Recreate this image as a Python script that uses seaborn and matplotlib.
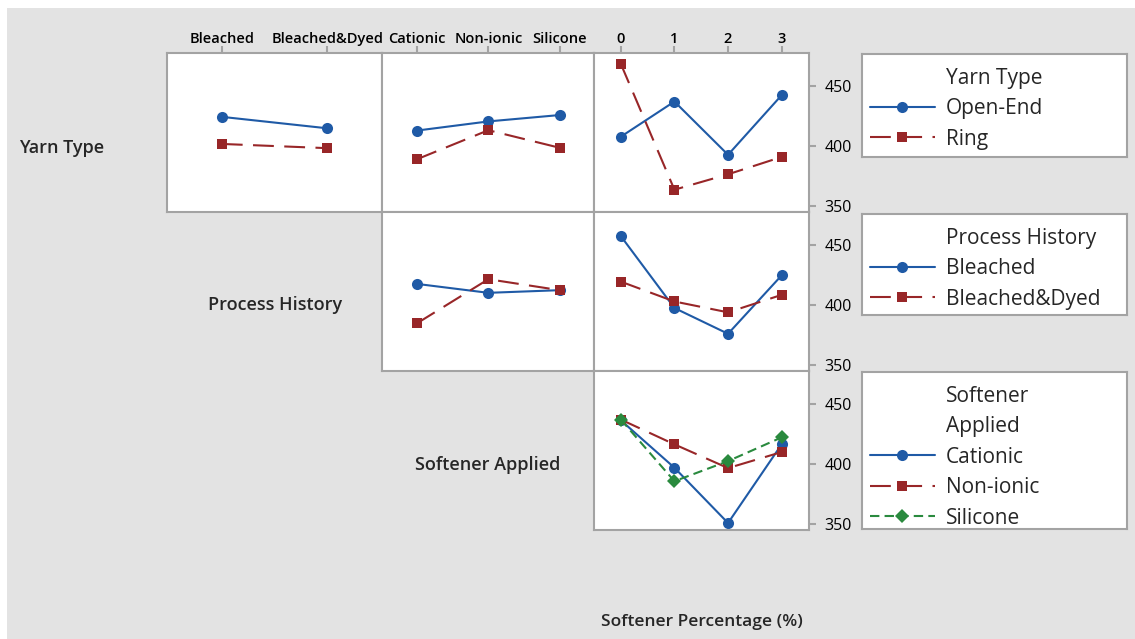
import numpy as np
import pandas as pd
import matplotlib.pyplot as plt
from matplotlib.lines import Line2D
from matplotlib.patches import Rectangle
import seaborn as sns

# factor levels
yarn_levels = ['Open-End', 'Ring']
process_levels = ['Bleached', 'Bleached&Dyed']
softener_levels = ['Cationic', 'Non-ionic', 'Silicone']
pct_levels = ['0', '1', '2', '3']

# means
openend_by_process = [424.0, 414.5]
ring_by_process = [401.5, 398.0]
openend_by_softener = [412.6, 420.2, 425.5]
ring_by_softener = [388.8, 412.9, 398.3]
openend_by_pct = [407.5, 436.7, 392.5, 442.0]
ring_by_pct = [468.0, 363.5, 376.3, 390.7]

bleached_by_softener = [417.3, 409.9, 412.1]
dyed_by_softener = [384.6, 421.2, 412.1]
bleached_by_pct = [457.0, 397.3, 375.9, 424.4]
dyed_by_pct = [419.2, 402.7, 393.7, 408.2]

cationic_by_pct = [436.1, 396.7, 350.8, 416.1]
nonionic_by_pct = [436.7, 416.1, 396.4, 409.7]
silicone_by_pct = [436.7, 385.5, 402.2, 421.9]

W, H = 1135, 639
BG = '#e3e3e3'
EDGE = '#a3a3a3'
BLUE = '#1f5aa6'
RED = '#982628'
GREEN = '#2a8a3e'

# color, marker, markersize, linestyle
styles = [
    (BLUE, 'o', 8.0, '-'),
    (RED, 's', 7.5, (0, (10, 5))),
    (GREEN, 'D', 7.3, (0, (4.5, 2.5))),
]

sns.set_theme(style='white')
plt.rcParams['font.family'] = ['Open Sans', 'DejaVu Sans']

fig = plt.figure(figsize=(W / 100, H / 100), dpi=100, facecolor='white')
fig.patches.append(Rectangle((7 / W, 0), 1 - 7 / W, 1 - 8 / H,
                             transform=fig.transFigure, facecolor=BG,
                             edgecolor='none', zorder=-10))


def px_box(x0, y0, x1, y1):
    return [x0 / W, 1 - y1 / H, (x1 - x0) / W, (y1 - y0) / H]


cols = [(167, 382), (382, 594), (594, 809)]
rows = [(53, 212), (212, 371), (371, 530)]
xlims = [(-0.52, 1.52), (-0.49, 2.48), (-0.5, 3.51)]


def panel(col, row, levels, series):
    ax = fig.add_axes(px_box(cols[col][0], rows[row][0], cols[col][1], rows[row][1]))
    ax.set_facecolor('white')
    for values, (color, marker, ms, ls) in zip(series, styles):
        sns.pointplot(x=levels, y=values, order=levels, color=color,
                      marker=marker, linestyle=ls, markersize=ms,
                      linewidth=1.5, markeredgewidth=0, errorbar=None, ax=ax)
    ax.set_xlim(*xlims[col])
    ax.set_ylim(345, 477)
    ax.set_xlabel('')
    ax.set_ylabel('')
    ax.tick_params(left=False, bottom=False, labelleft=False, labelbottom=False)
    for s in ax.spines.values():
        s.set_color(EDGE)
        s.set_linewidth(1.5)
    if row == 0:
        ax.xaxis.tick_top()
        ax.tick_params(axis='x', top=True, labeltop=True, length=5, width=1.5,
                       color=EDGE, pad=0, labelsize=10.5, labelcolor='black')
        for lbl in ax.get_xticklabels():
            lbl.set_fontweight('semibold')
    else:
        ax.tick_params(axis='x', top=False, labeltop=False)
    if col == 2:
        ax.yaxis.tick_right()
        ax.set_yticks([350, 400, 450])
        ax.tick_params(axis='y', right=True, labelright=True, length=5, width=1.5,
                       color=EDGE, pad=6, labelsize=11.5, labelcolor='black')
    return ax


panel(0, 0, process_levels, [openend_by_process, ring_by_process])
panel(1, 0, softener_levels, [openend_by_softener, ring_by_softener])
panel(2, 0, pct_levels, [openend_by_pct, ring_by_pct])
panel(1, 1, softener_levels, [bleached_by_softener, dyed_by_softener])
panel(2, 1, pct_levels, [bleached_by_pct, dyed_by_pct])
panel(2, 2, pct_levels, [cationic_by_pct, nonionic_by_pct, silicone_by_pct])

# diagonal labels
lab_kw = dict(fontsize=13, fontweight='semibold', va='center', ha='center')
fig.text(62 / W, 1 - 148 / H, 'Yarn Type', **lab_kw)
fig.text(275 / W, 1 - 305 / H, 'Process History', **lab_kw)
fig.text(488 / W, 1 - 465 / H, 'Softener Applied', **lab_kw)
fig.text(702 / W, 1 - 622 / H, 'Softener Percentage (%)', fontsize=12.5,
         fontweight='semibold', va='center', ha='center')


def legend_box(y0, y1, titles, labels):
    lax = fig.add_axes(px_box(862, y0, 1127, y1))
    lax.set_facecolor('white')
    lax.set_xticks([])
    lax.set_yticks([])
    for s in lax.spines.values():
        s.set_color(EDGE)
        s.set_linewidth(1.5)
    handles = [Line2D([], [], linestyle='none') for _ in titles]
    for lab, (color, marker, ms, ls) in zip(labels, styles):
        handles.append(Line2D([], [], color=color, marker=marker, markersize=ms,
                              markeredgewidth=0, linewidth=1.5, linestyle=ls))
    lax.legend(handles, list(titles) + list(labels), loc='upper left',
               bbox_to_anchor=(8 / 265, 1 - 14 / (y1 - y0)), frameon=False,
               fontsize=15, handlelength=3.1, handletextpad=0.55,
               labelspacing=0.45, borderpad=0, borderaxespad=0)


legend_box(54, 157, ['Yarn Type'], yarn_levels)
legend_box(214, 315, ['Process History'], process_levels)
legend_box(372, 529, ['Softener', 'Applied'], softener_levels)

fig.savefig('out.png', dpi=100, facecolor=fig.get_facecolor())
